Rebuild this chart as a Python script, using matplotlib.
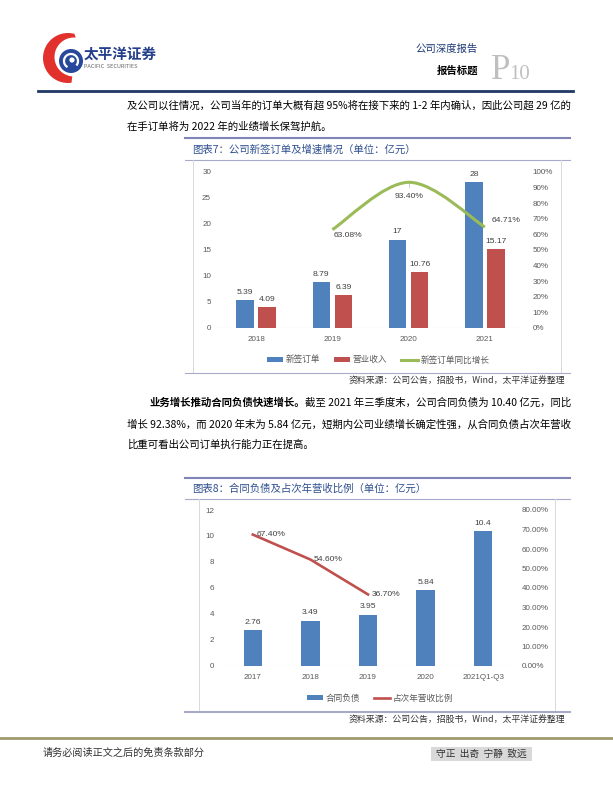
import numpy as np
import matplotlib.pyplot as plt
from matplotlib.patches import Rectangle, Circle, Polygon, PathPatch, Arc
from matplotlib.path import Path
from matplotlib.lines import Line2D

plt.rcParams['font.family'] = ['Noto Sans CJK SC', 'DejaVu Sans']

# 图表7 数据
years1 = ['2018', '2019', '2020', '2021']
new_orders = [5.39, 8.79, 17, 28]
revenue = [4.09, 6.39, 10.76, 15.17]
order_growth = [None, 0.6308, 0.934, 0.6471]

# 图表8 数据
years2 = ['2017', '2018', '2019', '2020', '2021Q1-Q3']
contract_liab = [2.76, 3.49, 3.95, 5.84, 10.4]
next_rev_ratio = [0.674, 0.546, 0.367, None, None]

BLUE = '#4F81BD'
RED = '#C0504D'
GREEN = '#9BBB59'
GREY = '#595959'
NUM_FONT = ['Liberation Sans', 'Noto Sans CJK SC']
TICK = 5.8

fig = plt.figure(figsize=(6.13, 7.93), dpi=100)
fig.patch.set_facecolor('white')

# 整页画布，像素坐标
pg = fig.add_axes([0, 0, 1, 1])
pg.set_xlim(0, 613)
pg.set_ylim(793, 0)
pg.axis('off')


def hline(y, x0, x1, color, lw):
    pg.add_line(Line2D([x0, x1], [y, y], color=color, lw=lw))


def vline(x, y0, y1, color, lw):
    pg.add_line(Line2D([x, x], [y0, y1], color=color, lw=lw))


# ---- 页眉 ----
def arc_pts(cx, cy, r, t0, t1, n=40):
    t = np.radians(np.linspace(t0, t1, n))
    return np.column_stack([cx + r * np.cos(t), cy - r * np.sin(t)])

outer = arc_pts(68, 58, 25, 75, 278)
inner = arc_pts(74, 57, 19.5, 265, 85)
pg.add_patch(Polygon(np.vstack([outer, inner]), closed=True, fc='#E2312D', ec='none'))
pg.add_patch(Circle((71, 61), 12, fc='#27489B', ec='none'))
pg.add_patch(Arc((71, 61), 14, 14, theta1=120, theta2=400, color='white', lw=1.6))
pg.add_patch(Circle((72, 60), 2.6, fc='white', ec='none'))
pg.text(84, 54, '太平洋证券', fontsize=10.5, fontweight='bold', color='#233E8B', va='center')
pg.text(84, 66.5, 'PACIFIC  SECURITIES', fontsize=4.0, color='#666666', va='center')

pg.text(478, 49, '公司深度报告', fontsize=7.5, color='#1F3A75', ha='right', va='center')
pg.text(478, 71, '报告标题', fontsize=7.5, fontweight='bold', color='black', ha='right', va='center')
pg.text(491, 79, 'P', fontsize=25, family='Liberation Serif', color='#BFBFBF', va='baseline')
pg.text(509, 79, '10', fontsize=15, family='Liberation Serif', color='#BFBFBF', va='baseline')
hline(90.5, 38, 573, '#1F3864', 2.0)

# ---- 正文 ----
BODY = 7.5
pg.text(127, 106, '及公司以往情况，公司当年的订单大概有超 95%将在接下来的 1-2 年内确认，因此公司超 29 亿的',
        fontsize=BODY, va='center', color='black')
pg.text(127, 127, '在手订单将为 2022 年的业绩增长保驾护航。', fontsize=BODY, va='center', color='black')

t_bold = pg.text(149, 403, '业务增长推动合同负债快速增长。', fontsize=BODY, fontweight='bold',
                 va='center', color='black')
fig.canvas.draw()
x_after = t_bold.get_window_extent().x1
pg.text(x_after, 403, '截至 2021 年三季度末，公司合同负债为 10.40 亿元，同比',
        fontsize=BODY, va='center', color='black')
pg.text(127, 424, '增长 92.38%，而 2020 年末为 5.84 亿元，短期内公司业绩增长确定性强，从合同负债占次年营收',
        fontsize=BODY, va='center', color='black')
pg.text(127, 445, '比重可看出公司订单执行能力正在提高。', fontsize=BODY, va='center', color='black')


# ---- 图框 ----
def chart_frame(y_top, y_mid, y_bot, xl, xr, title, bot_lw):
    hline(y_top, 185, 570, '#7F83B5', 1.5)
    pg.text(192, (y_top + y_mid) / 2 + 0.5, title, fontsize=7.5, color='#2F4F8F', va='center')
    hline(y_mid, 185, 570, '#A7AACB', 0.8)
    vline(xl, y_mid, y_bot, '#D9D9D9', 0.7)
    vline(xr, y_mid, y_bot, '#D9D9D9', 0.7)
    hline(y_bot, 185, 570, '#A7AACB', bot_lw)
    pg.text(565, y_bot + 8, '资料来源：公司公告，招股书，Wind，太平洋证券整理', fontsize=6.4,
            style='italic', color='#333333', ha='right', va='center')

chart_frame(138, 160, 373, 193, 561, '图表7：公司新签订单及增速情况（单位：亿元）', 0.8)
chart_frame(478, 499, 712, 199, 555, '图表8：合同负债及占次年营收比例（单位：亿元）', 1.5)


def style_axes(ax):
    for s in ax.spines.values():
        s.set_visible(False)
    ax.set_facecolor('none')


def smooth_path(xs, ys):
    pts = np.column_stack([xs, ys]).astype(float)
    n = len(pts)
    verts = [pts[0]]
    codes = [Path.MOVETO]
    for i in range(n - 1):
        p0 = pts[i - 1] if i > 0 else pts[i]
        p1 = pts[i]
        p2 = pts[i + 1]
        p3 = pts[i + 2] if i + 2 < n else pts[i + 1]
        verts += [p1 + (p2 - p0) / 6, p2 - (p3 - p1) / 6, p2]
        codes += [Path.CURVE4] * 3
    return Path(verts, codes)


# ---- 图表7 ----
W, H = 613.0, 793.0
ax1 = fig.add_axes([218 / W, 1 - 328 / H, 305 / W, 156 / H])
style_axes(ax1)
x1 = np.arange(len(years1))
bw = 0.23
b1 = ax1.bar(x1 - 0.145, new_orders, bw, color=BLUE, label='新签订单', zorder=2)
b2 = ax1.bar(x1 + 0.145, revenue, bw, color=RED, label='营业收入', zorder=2)
for xs, vals in ((x1 - 0.145, new_orders), (x1 + 0.145, revenue)):
    for xi, v in zip(xs, vals):
        ax1.annotate(f'{v:g}', (xi, v), xytext=(0, 3), textcoords='offset points',
                     ha='center', va='bottom', fontsize=6.1, color='#404040', family=NUM_FONT)
ax1.axhline(0, color='#D9D9D9', lw=0.8, zorder=1)
ax1.set_xlim(-0.5, 3.5)
ax1.set_ylim(0, 30)
ax1.set_yticks(range(0, 31, 5))
ax1.set_xticks(x1)
ax1.set_xticklabels(years1)
ax1.tick_params(axis='y', length=0, labelsize=TICK, labelcolor=GREY, pad=5)
ax1.tick_params(axis='x', length=0, labelsize=TICK, labelcolor=GREY, pad=6)
for lab in ax1.get_xticklabels() + ax1.get_yticklabels():
    lab.set_family(NUM_FONT)

ax1r = ax1.twinx()
style_axes(ax1r)
ax1r.set_ylim(0, 1)
ax1r.set_yticks(np.arange(0, 1.01, 0.1))
ax1r.set_yticklabels([f'{v:.0%}' for v in np.arange(0, 1.01, 0.1)])
ax1r.tick_params(axis='y', length=0, labelsize=TICK, labelcolor=GREY, pad=7)
for lab in ax1r.get_yticklabels():
    lab.set_family(NUM_FONT)
gx = [i for i, g in enumerate(order_growth) if g is not None]
gy = [g for g in order_growth if g is not None]
ax1r.add_patch(PathPatch(smooth_path(gx, gy), fc='none', ec=GREEN, lw=2.2, zorder=3))
g_off = [(1, -4), (0, -10), (5, 5)]
g_ha = ['left', 'center', 'left']
for xi, v, off, ha in zip(gx, gy, g_off, g_ha):
    ax1r.annotate(f'{v:.2%}', (xi, v), xytext=off, textcoords='offset points',
                  ha=ha, va='center', fontsize=6.1, color='#404040', family=NUM_FONT)
ax1r.plot([2, 2], [0.934, 0.905], color='#BFBFBF', lw=0.6)

h_line1 = Line2D([], [], color=GREEN, lw=2.2)
fig.legend([b1, b2, h_line1], ['新签订单', '营业收入', '新签订单同比增长'], loc='center',
           bbox_to_anchor=(378 / W, 1 - 360 / H), ncol=3, frameon=False, fontsize=6.2,
           handlelength=1.9, handleheight=0.6, handletextpad=0.3, columnspacing=1.6,
           labelcolor=GREY)

# ---- 图表8 ----
ax2 = fig.add_axes([224 / W, 1 - 666 / H, 288 / W, 156 / H])
style_axes(ax2)
x2 = np.arange(len(years2))
b3 = ax2.bar(x2, contract_liab, 0.32, color=BLUE, zorder=2)
for xi, v in zip(x2, contract_liab):
    ax2.annotate(f'{v:g}', (xi, v), xytext=(0, 3), textcoords='offset points',
                 ha='center', va='bottom', fontsize=6.1, color='#404040', family=NUM_FONT)
ax2.axhline(0, color='#D9D9D9', lw=0.8, zorder=1)
ax2.set_xlim(-0.5, 4.5)
ax2.set_ylim(0, 12)
ax2.set_yticks(range(0, 13, 2))
ax2.set_xticks(x2)
ax2.set_xticklabels(years2)
ax2.tick_params(axis='y', length=0, labelsize=TICK, labelcolor=GREY, pad=7)
ax2.tick_params(axis='x', length=0, labelsize=TICK, labelcolor=GREY, pad=6)
for lab in ax2.get_xticklabels() + ax2.get_yticklabels():
    lab.set_family(NUM_FONT)

ax2r = ax2.twinx()
style_axes(ax2r)
ax2r.set_ylim(0, 0.8)
ax2r.set_yticks(np.arange(0, 0.81, 0.1))
ax2r.set_yticklabels([f'{v:.2%}' for v in np.arange(0, 0.81, 0.1)])
ax2r.tick_params(axis='y', length=0, labelsize=TICK, labelcolor=GREY, pad=7)
for lab in ax2r.get_yticklabels():
    lab.set_family(NUM_FONT)
rx = [i for i, r in enumerate(next_rev_ratio) if r is not None]
ry = [r for r in next_rev_ratio if r is not None]
l4, = ax2r.plot(rx, ry, color=RED, lw=1.9, zorder=3)
for xi, v in zip(rx, ry):
    ax2r.annotate(f'{v:.2%}', (xi, v), xytext=(2.5, 0), textcoords='offset points',
                  ha='left', va='center', fontsize=6.1, color='#404040', family=NUM_FONT)

fig.legend([b3, l4], ['合同负债', '占次年营收比例'], loc='center',
           bbox_to_anchor=(380 / W, 1 - 698 / H), ncol=2, frameon=False, fontsize=6.2,
           handlelength=1.9, handleheight=0.6, handletextpad=0.3, columnspacing=1.6,
           labelcolor=GREY)

# ---- 页脚 ----
hline(738, 0, 613, '#9E9A6E', 2.0)
pg.text(43, 753, '请务必阅读正文之后的免责条款部分', fontsize=7.3, color='#333333', va='center')
pg.add_patch(Rectangle((431, 746.5), 101, 14, fc='#D9D9D9', ec='none'))
pg.text(481.5, 753.5, '守正  出奇  宁静  致远', fontsize=7.0, color='#333333', ha='center', va='center')

fig.savefig('out.png', dpi=100)
